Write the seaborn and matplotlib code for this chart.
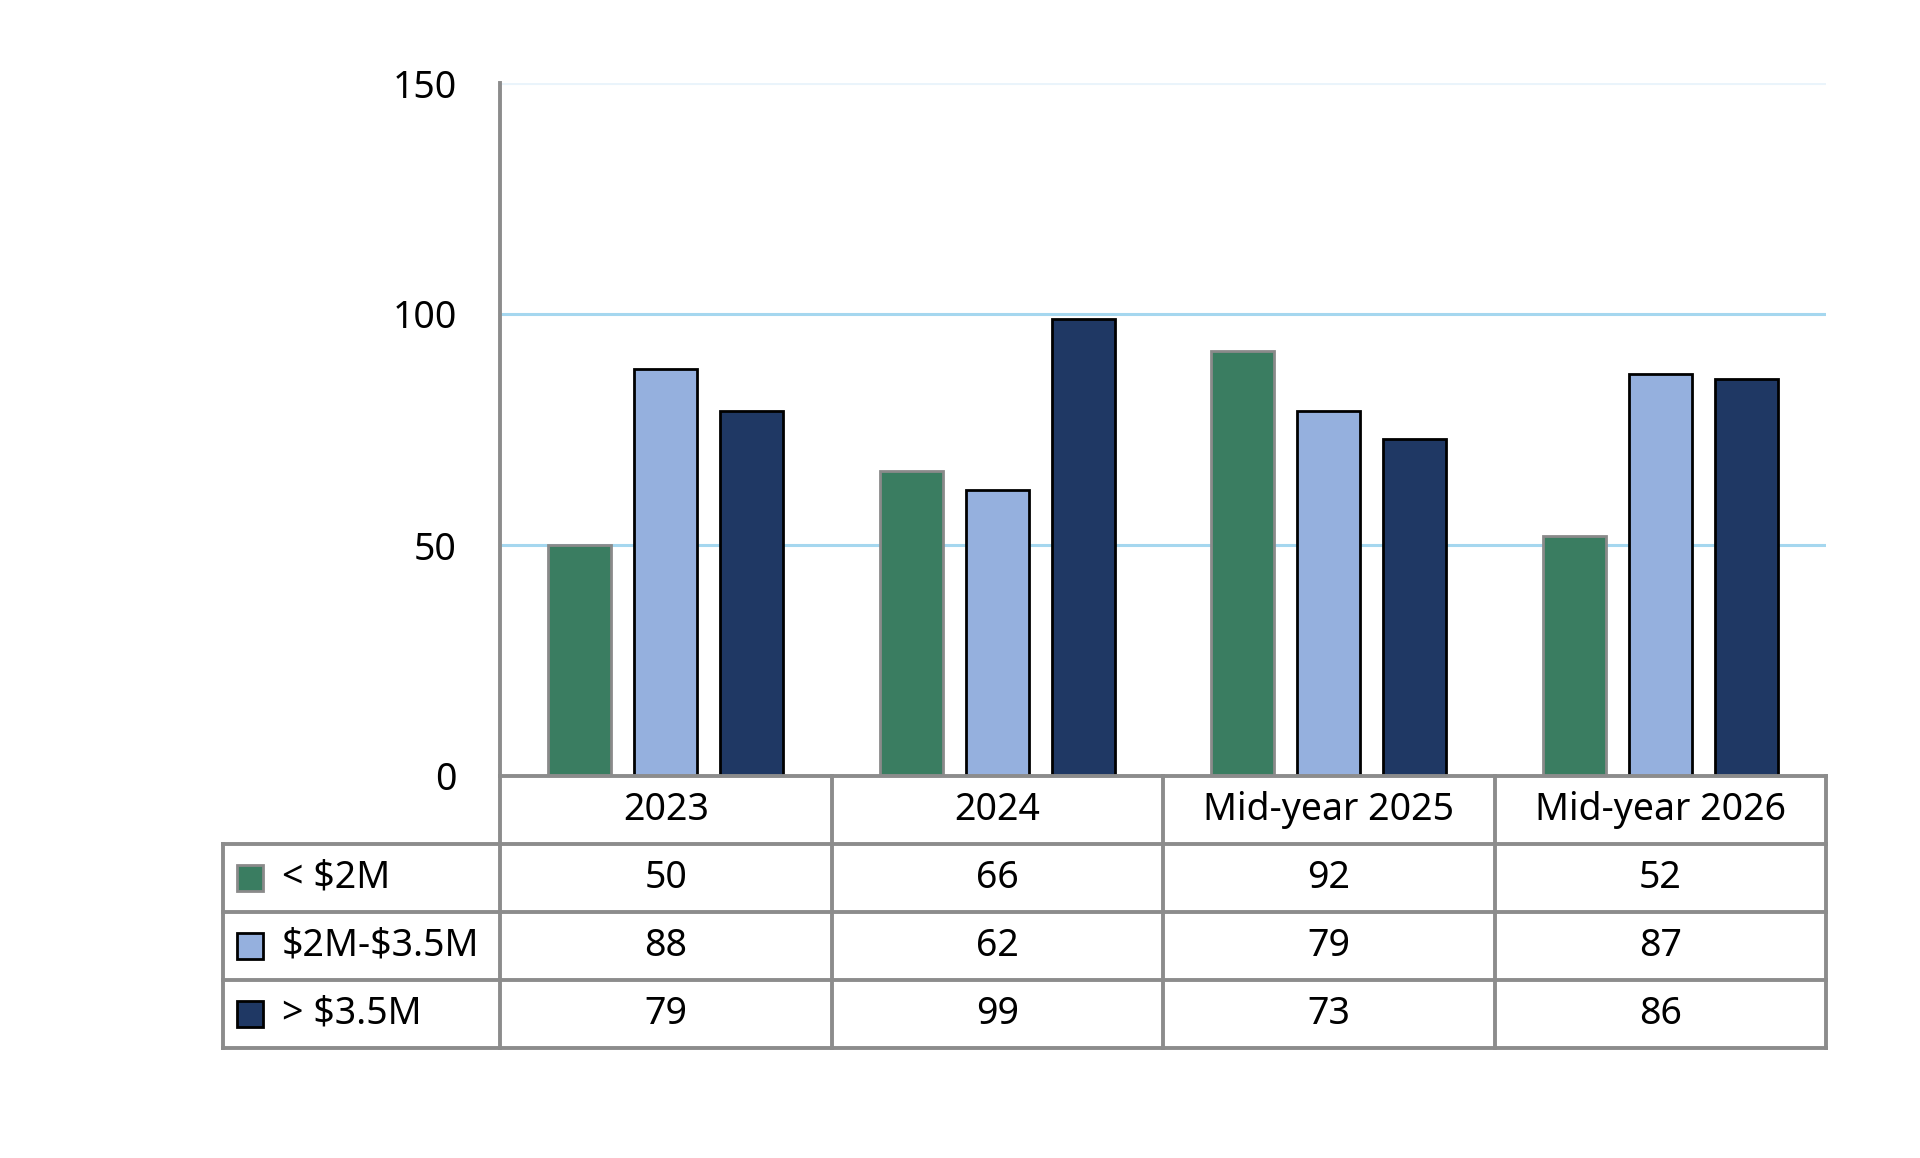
import matplotlib

matplotlib.use("Agg")

import matplotlib.pyplot as plt
import pandas as pd
import seaborn as sns
from matplotlib.patches import Rectangle

periods = ["2023", "2024", "Mid-year 2025", "Mid-year 2026"]
series = ["< $2M", "$2M-$3.5M", "> $3.5M"]
under_2m = [50, 66, 92, 52]
mid_2m_35m = [88, 62, 79, 87]
over_35m = [79, 99, 73, 86]
y_ticks = [0, 50, 100, 150]

fills = ["#3a7d61", "#95b0de", "#1f3864"]
edges = ["#8a8a8a", "#000000", "#000000"]
line_grey = "#8c8c8c"

W, H = 1920, 1158
FONT = ["Noto Sans", "DejaVu Sans"]
FS = 27

sns.set_theme(style="white")
plt.rcParams["font.family"] = FONT
plt.rcParams["text.parse_math"] = False

values = [under_2m, mid_2m_35m, over_35m]
df = pd.DataFrame(
    {
        "period": periods * len(series),
        "series": [s for s in series for _ in periods],
        "value": [v for row in values for v in row],
    }
)

fig = plt.figure(figsize=(W / 100, H / 100), dpi=100)

# chart area in pixels: x 500..1826, y 83..776
left, right, top, base = 500, 1826, 83, 776
ax = fig.add_axes([left / W, 1 - base / H, (right - left) / W, (base - top) / H])

sns.barplot(
    data=df,
    x="period",
    y="value",
    hue="series",
    order=periods,
    hue_order=series,
    palette=fills,
    saturation=1,
    width=0.78,
    gap=0.27,
    linewidth=2,
    ax=ax,
    legend=False,
    zorder=3,
)
for i, container in enumerate(ax.containers):
    for bar in container:
        bar.set_edgecolor(edges[i])
        bar.set_linewidth(2)

ax.set_xlim(-0.5, len(periods) - 0.5)
ax.set_ylim(0, 150)
ax.set_yticks(y_ticks)
ax.set_yticklabels([str(t) for t in y_ticks], fontsize=FS, color="black")
ax.tick_params(axis="y", length=0, pad=31)
ax.set_xticks([])
ax.set_xlabel("")
ax.set_ylabel("")
for t in y_ticks[1:]:
    color = "#eaf4fb" if t == 150 else "#a5d7ef"
    ax.axhline(t, color=color, linewidth=2.2, zorder=1)
for side in ["top", "right", "bottom"]:
    ax.spines[side].set_visible(False)
ax.spines["left"].set_color(line_grey)
ax.spines["left"].set_linewidth(2.8)

# data table below the chart
tab_left, tab_bottom = 223, 1048
col_w = (right - left) / len(periods)
leg_x0 = -0.5 - (left - tab_left) / col_w
tax = fig.add_axes([tab_left / W, 1 - tab_bottom / H, (right - tab_left) / W, (tab_bottom - base) / H])
tax.set_xlim(leg_x0, len(periods) - 0.5)
tax.set_ylim(len(series) + 1, 0)
tax.axis("off")

lw = 2.8
n_rows = len(series) + 1
line_kw = dict(color=line_grey, lw=lw, clip_on=False, solid_capstyle="projecting")
tax.plot([-0.5, len(periods) - 0.5], [0, 0], **line_kw)
for r in range(1, n_rows + 1):
    tax.plot([leg_x0, len(periods) - 0.5], [r, r], **line_kw)
for c in range(len(periods) + 1):
    tax.plot([c - 0.5, c - 0.5], [0, n_rows], **line_kw)
tax.plot([leg_x0, leg_x0], [1, n_rows], **line_kw)

for i, name in enumerate(periods):
    tax.text(i, 0.5, name, ha="center", va="center", fontsize=FS, color="black")

sq_w = 26 / col_w
sq_h = 26 / ((tab_bottom - base) / n_rows)
sq_cx = -0.5 - (left - 250) / col_w
label_x = -0.5 - (left - 282) / col_w
for r, (name, row) in enumerate(zip(series, values)):
    y = r + 1.5
    tax.add_patch(
        Rectangle(
            (sq_cx - sq_w / 2, y - sq_h / 2),
            sq_w,
            sq_h,
            facecolor=fills[r],
            edgecolor=edges[r],
            linewidth=2,
        )
    )
    tax.text(label_x, y, name, ha="left", va="center", fontsize=FS, color="black")
    for i, v in enumerate(row):
        tax.text(i, y, str(v), ha="center", va="center", fontsize=FS, color="black")

fig.savefig("out.png", dpi=100, facecolor="white")
